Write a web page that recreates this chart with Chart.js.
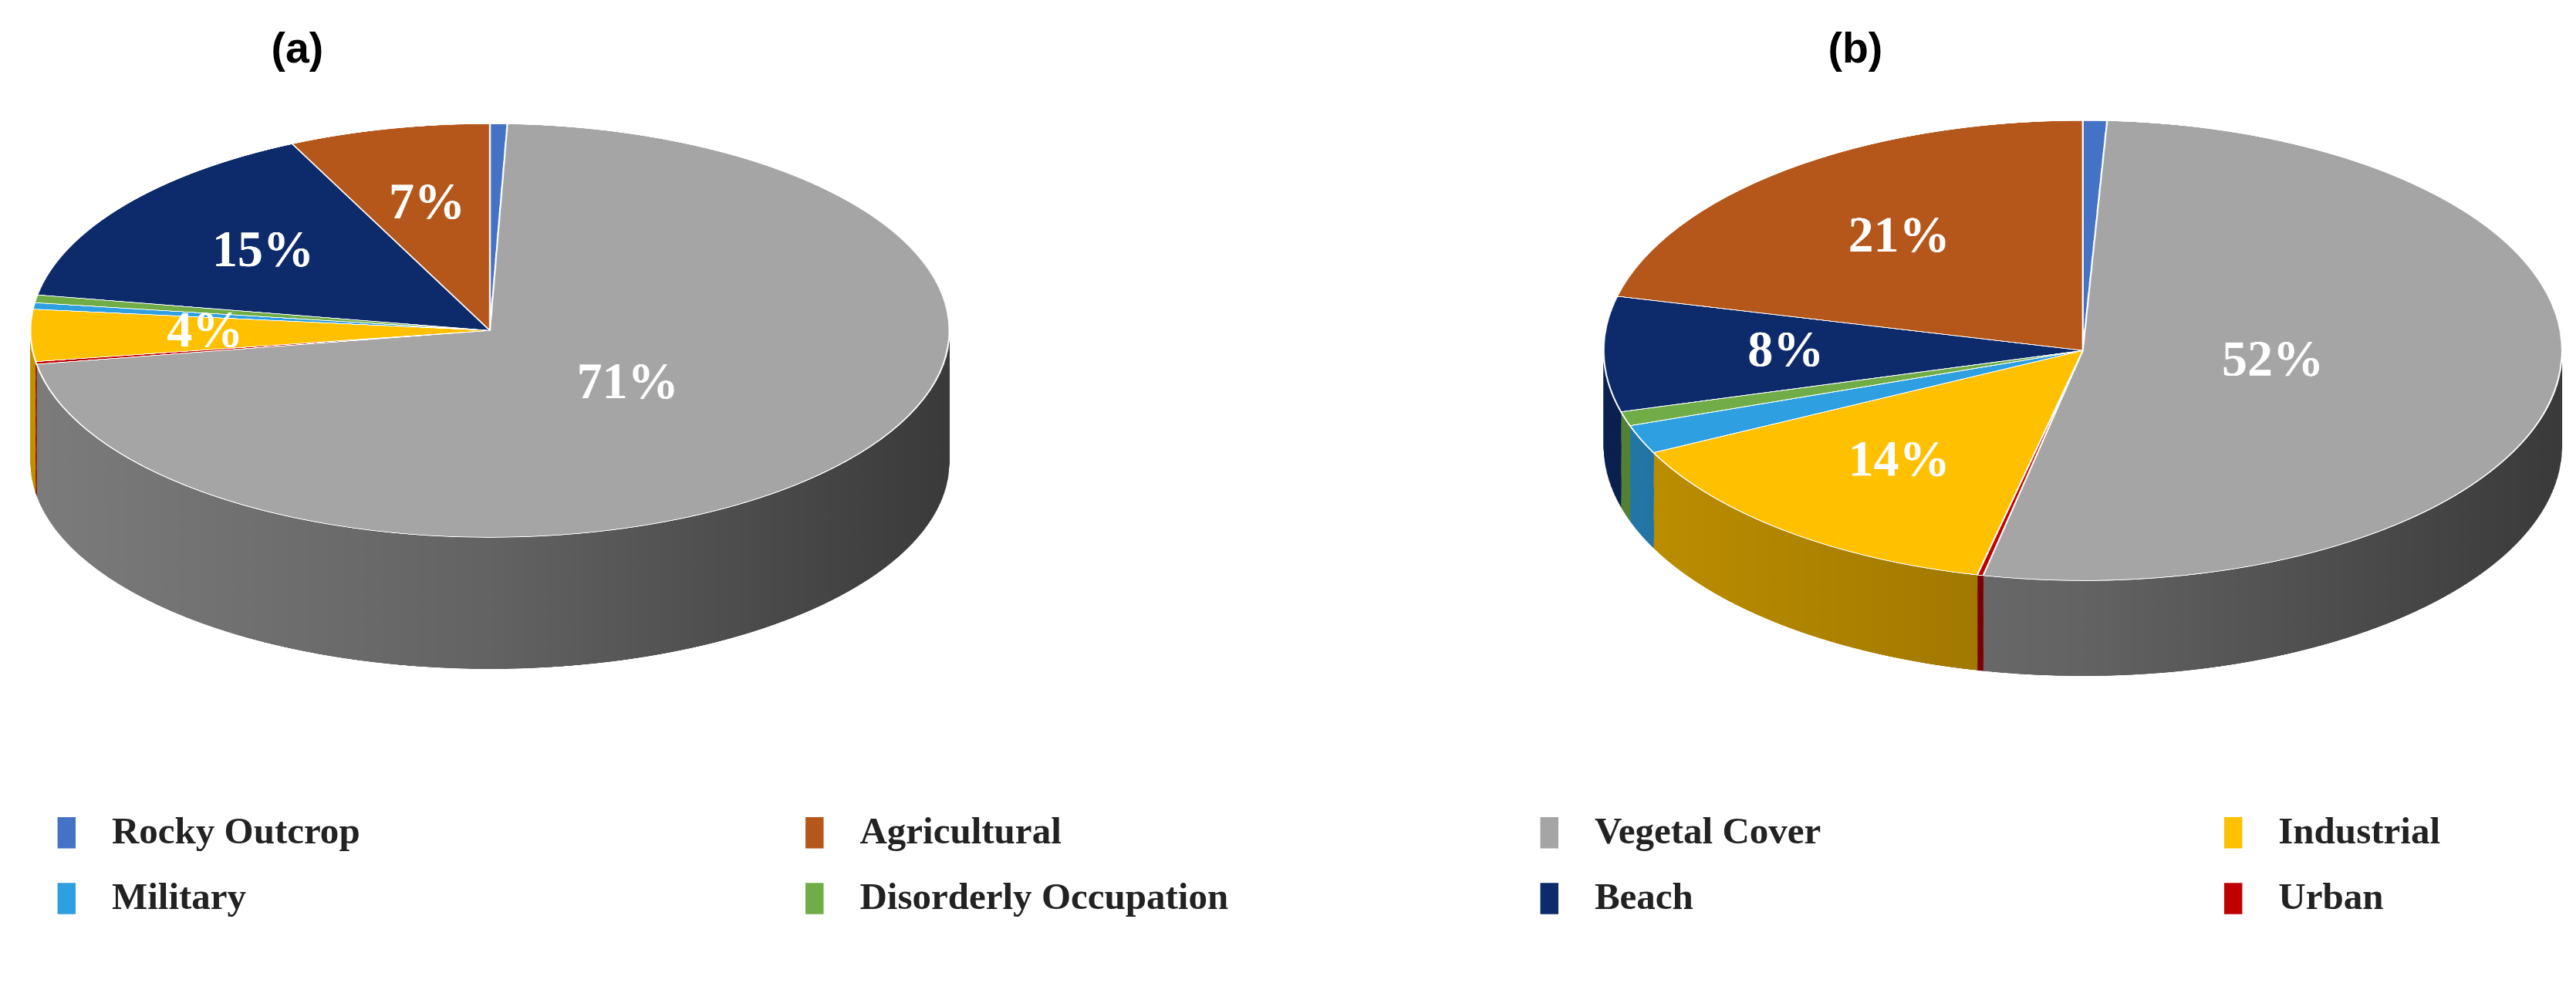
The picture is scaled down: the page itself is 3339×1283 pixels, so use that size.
<!DOCTYPE html>
<html><head><meta charset="utf-8">
<script src="https://cdn.jsdelivr.net/npm/chart.js@4"></script>
<style>
html,body{margin:0;padding:0;background:#fff;overflow:hidden}
#stage{position:absolute;left:0;top:0;width:1567px;height:602px;transform-origin:0 0;transform:scale(2.1308)}
.pw{position:absolute;transform-origin:0 0}
.title{position:absolute;font:bold 26px "Liberation Sans",Arial,sans-serif;color:#000}
.lg{position:absolute;font:bold 23px "Liberation Serif","Times New Roman",serif;color:#222;display:flex;align-items:center}
.lg span.sw{display:inline-block;width:11px;height:19px;margin-right:22px}
</style></head><body>
<div id="stage">
<div class="title" style="left:165px;top:14px">(a)</div>
<div class="title" style="left:1112px;top:14px">(b)</div>
<div class="pw" id="wa" style="left:18px;top:75px"><canvas id="ca"></canvas></div>
<div class="pw" id="wb" style="left:975px;top:73px"><canvas id="cb"></canvas></div>
<div id="legend"></div>
</div>
<script>
const categories=["Rocky Outcrop","Vegetal Cover","Urban","Industrial","Military","Disorderly Occupation","Beach","Agricultural"];
const colors=["#4472c4","#a5a5a5","#c00000","#ffc000","#2e9fe0","#70ad47","#0d2a6b","#b5561a"];
const valuesA=[0.6,71,0.2,4,0.5,0.6,15,7];
const valuesB=[0.8,52,0.2,14,2,1,8,21];
const labelsA=["","71%","","4%","","","15%","7%"];
const labelsB=["","52%","","14%","","","8%","21%"];
const legendOrder=[["Rocky Outcrop","Agricultural","Vegetal Cover","Industrial"],["Military","Disorderly Occupation","Beach","Urban"]];

function shade(hex,f){const n=parseInt(hex.slice(1),16);const r=(n>>16)&255,g=(n>>8)&255,b=n&255;return `rgb(${Math.round(r*f)},${Math.round(g*f)},${Math.round(b*f)})`;}

function makePie(id,wrap,values,labels,R,sy,depth){
  const dpx=Math.round(depth/sy);
  const W=2*R,H=2*R+dpx;
  const cv=document.getElementById(id);
  const w=document.getElementById(wrap);
  w.style.width=W+'px';w.style.height=H+'px';
  w.style.transform=`scale(1,${sy})`;
  cv.width=W;cv.height=H;cv.style.width=W+'px';cv.style.height=H+'px';
  const plugin={id:'p3d'+id,
    beforeDatasetsDraw(ch){
      const ctx=ch.ctx;const arcs=ch.getDatasetMeta(0).data;
      for(let d=dpx;d>=1;d--){
        arcs.forEach((a,i)=>{
          if(a.endAngle-a.startAngle<=0)return;
          ctx.beginPath();ctx.moveTo(a.x,a.y+d);
          ctx.arc(a.x,a.y+d,a.outerRadius,a.startAngle,a.endAngle);ctx.closePath();
          const g=ctx.createLinearGradient(a.x-a.outerRadius,0,a.x+a.outerRadius,0);
          g.addColorStop(0,shade(colors[i],0.75));g.addColorStop(0.5,shade(colors[i],0.6));g.addColorStop(1,shade(colors[i],0.35));
          ctx.fillStyle=g;ctx.fill();
        });
      }
    },
    afterDatasetsDraw(ch){
      const ctx=ch.ctx;const arcs=ch.getDatasetMeta(0).data;
      arcs.forEach((a,i)=>{
        if(!labels[i])return;
        const m=(a.startAngle+a.endAngle)/2;const r=a.outerRadius*(values[i]>50?0.4:0.62);
        const x=a.x+Math.cos(m)*r,y=a.y+Math.sin(m)*r;
        ctx.save();ctx.translate(x,y);ctx.scale(1,1/sy);
        ctx.font='bold 31px "Liberation Serif","Times New Roman",serif';
        ctx.fillStyle='#fff';ctx.textAlign='center';ctx.textBaseline='middle';
        ctx.fillText(labels[i],0,0);ctx.restore();
      });
    }};
  new Chart(cv,{type:'pie',
    data:{labels:categories,datasets:[{data:values,backgroundColor:colors,borderColor:'#ffffff',borderWidth:1}]},
    options:{responsive:false,animation:false,devicePixelRatio:3,
      layout:{padding:{bottom:dpx,top:0,left:0,right:0}},
      plugins:{legend:{display:false},tooltip:{enabled:false}}},
    plugins:[plugin]});
}
makePie('ca','wa',valuesA,labelsA,280,0.45,80);
makePie('cb','wb',valuesB,labelsB,292,0.48,58);

const lg=document.getElementById('legend');
const xs=[35,490,937,1353],ys=[493,533];
legendOrder.forEach((row,ri)=>row.forEach((name,ci)=>{
  const d=document.createElement('div');d.className='lg';
  d.style.left=xs[ci]+'px';d.style.top=ys[ri]+'px';
  const i=categories.indexOf(name);
  d.innerHTML=`<span class="sw" style="background:${colors[i]}"></span>${name}`;
  lg.appendChild(d);
}));
</script>
</body></html>
